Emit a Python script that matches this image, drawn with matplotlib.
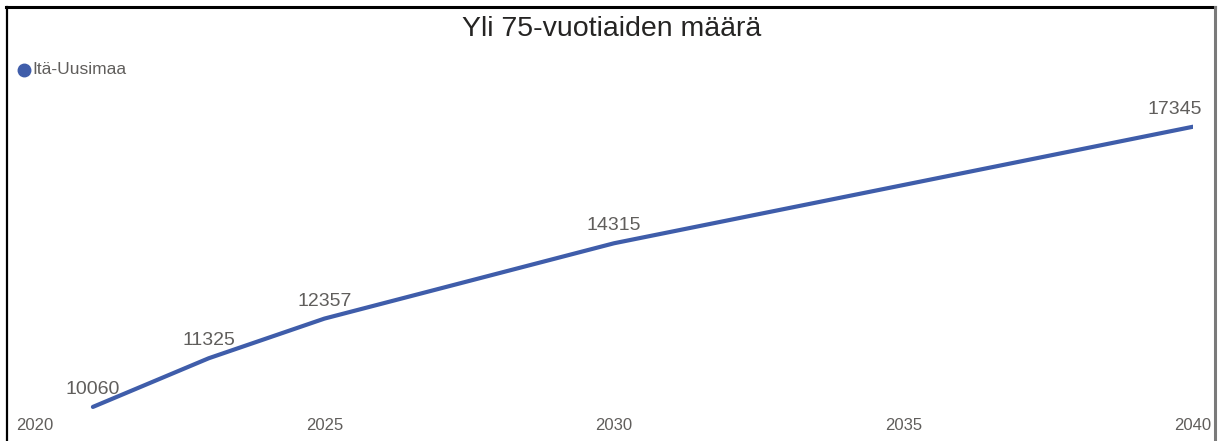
import matplotlib
matplotlib.use('Agg')
import matplotlib.pyplot as plt
from matplotlib.lines import Line2D

plt.rcParams['font.family'] = ['Liberation Sans', 'DejaVu Sans']

# data
years = [2021, 2023, 2025, 2030, 2040]
values = [10060, 11325, 12357, 14315, 17345]
xticks = [2020, 2025, 2030, 2035, 2040]
series_name = 'Itä-Uusimaa'
title = 'Yli 75-vuotiaiden määrä'

line_color = '#3F5DAA'
text_color = '#605E5C'

W, H = 1219, 441
fig = plt.figure(figsize=(W / 100, H / 100), dpi=100)

# axes placed in pixel terms
left, right, bottom, top = 35, 1193, 415, 90
ax = fig.add_axes([left / W, 1 - bottom / H, (right - left) / W, (bottom - top) / H])

ax.plot(years, values, color=line_color, linewidth=3, solid_capstyle='round')

for i, (x, y) in enumerate(zip(years, values)):
    dx = -13 if i == len(years) - 1 else 0
    ax.annotate(str(y), (x, y), xytext=(dx, 12.5), textcoords='offset points',
                ha='center', va='center', fontsize=14, color=text_color)

ax.set_xlim(2020, 2040)
ax.set_ylim(9850, 18300)
ax.set_xticks(xticks)
ax.set_xticklabels([str(t) for t in xticks], fontsize=12, color=text_color)
ax.tick_params(axis='x', length=0, pad=2)
ax.set_yticks([])
for s in ax.spines.values():
    s.set_visible(False)

fig.text(612 / W, 1 - 36 / H, title, ha='center', va='baseline',
         fontsize=20.5, color='#252423')

# legend: dot + label
fig.add_artist(Line2D([24 / W], [1 - 70 / H], marker='o', markersize=9,
                      color=line_color, transform=fig.transFigure))
fig.text(32 / W, 1 - 70 / H, series_name, ha='left', va='center',
         fontsize=12.5, color=text_color)

# frame lines around the visual
fig.add_artist(Line2D([6 / W, 1215 / W], [1 - 7 / H, 1 - 7 / H], color='black',
                      linewidth=2.2, transform=fig.transFigure))
fig.add_artist(Line2D([7 / W, 7 / W], [0, 1 - 7 / H], color='black',
                      linewidth=1.6, transform=fig.transFigure))
fig.add_artist(Line2D([1215 / W, 1215 / W], [0, 1 - 7 / H], color='#7a7a7a',
                      linewidth=2.2, transform=fig.transFigure))

fig.savefig('out.png', dpi=100)
plt.close(fig)
